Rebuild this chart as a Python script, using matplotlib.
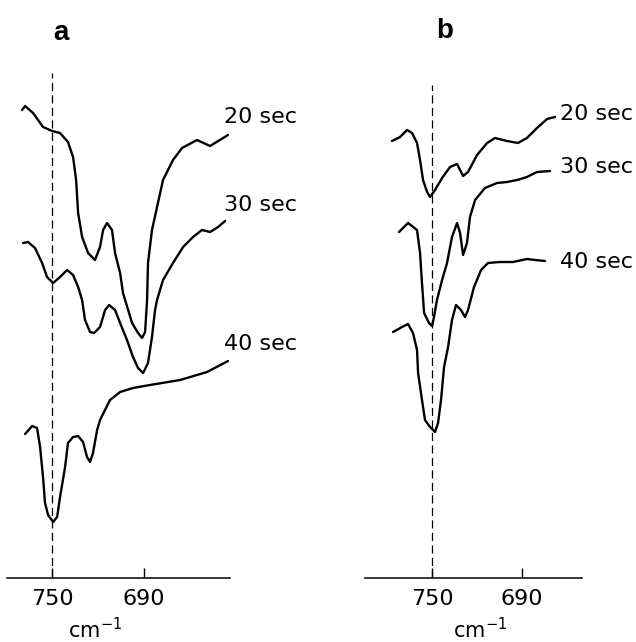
import matplotlib
matplotlib.use("Agg")
import matplotlib.pyplot as plt

# ---------------------------- data ----------------------------
# wavenumber (cm-1) and relative pen height (arb. units, 0 = baseline axis)

# panel a
a20_wn = [769.6, 767.6, 762.4, 755.9, 750.0, 744.8, 739.6, 736.3, 734.3, 733.0,
          730.4, 726.5, 722.0, 718.7, 716.7, 714.1, 710.9, 708.9, 705.6, 703.7,
          697.8, 693.9, 691.3, 689.3, 688.0, 687.4, 684.8, 681.5, 677.6, 671.1,
          665.2, 655.4, 646.9, 635.2]
a20_y = [468, 472, 465, 451, 447, 445, 436, 421, 398, 365,
         341, 325, 318, 331, 348, 355, 348, 325, 305, 285,
         255, 245, 240, 246, 278, 315, 348, 371, 398, 418,
         430, 438, 432, 443]

a30_wn = [768.9, 765.7, 761.1, 756.5, 753.3, 749.3, 744.8, 740.2, 736.3, 733.0,
          730.4, 728.5, 725.2, 722.6, 718.7, 715.4, 712.8, 708.9, 705.6, 701.1,
          697.2, 693.9, 690.6, 687.4, 684.8, 682.8, 681.5, 677.6, 671.1, 664.5,
          658.0, 652.2, 646.9, 641.7, 637.1]
a30_y = [335, 336, 330, 315, 301, 295, 301, 308, 303, 291,
         278, 258, 246, 245, 251, 268, 273, 268, 255, 238,
         221, 210, 205, 215, 241, 268, 278, 298, 315, 331,
         341, 348, 346, 351, 357]

a40_wn = [767.6, 763.0, 759.8, 757.8, 755.9, 754.6, 752.6, 749.3, 746.7, 744.8,
          741.5, 739.6, 736.3, 733.0, 729.8, 727.2, 725.2, 723.3, 720.6, 718.7,
          712.2, 705.6, 697.2, 686.1, 666.5, 648.9, 635.2]
a40_y = [144, 152, 150, 131, 101, 75, 63, 56, 61, 81,
         111, 135, 141, 142, 136, 121, 116, 125, 148, 158,
         178, 186, 190, 193, 198, 206, 217]

# panel b
b20_wn = [776.7, 771.3, 766.7, 763.3, 760.0, 758.0, 756.0, 753.3, 751.3, 748.0,
          743.3, 738.0, 733.3, 731.3, 729.3, 726.0, 720.0, 713.3, 708.0, 700.0,
          692.7, 686.7, 680.0, 673.3, 668.0]
b20_y = [437, 441, 448, 445, 435, 418, 398, 386, 381, 388,
         400, 411, 414, 408, 402, 406, 423, 435, 440, 437,
         435, 440, 450, 459, 461]

b30_wn = [772.0, 766.0, 760.0, 758.0, 756.7, 755.3, 752.0, 750.0, 748.7, 746.7,
          743.3, 740.0, 736.7, 733.3, 731.3, 729.3, 726.7, 724.7, 721.3, 714.7,
          706.7, 700.0, 693.3, 686.7, 680.0, 671.3]
b30_y = [346, 355, 348, 325, 295, 265, 255, 252, 261, 278,
         298, 315, 341, 355, 345, 323, 335, 361, 378, 390,
         395, 396, 398, 401, 406, 407]

b40_wn = [776.0, 770.0, 766.0, 762.7, 760.0, 759.3, 756.7, 754.7, 751.3, 748.0,
          746.0, 744.0, 742.0, 739.3, 736.7, 734.0, 730.7, 728.0, 726.0, 722.0,
          717.3, 712.7, 704.7, 696.0, 686.7, 681.3, 674.7]
b40_y = [246, 251, 254, 245, 228, 205, 178, 158, 151, 146,
         155, 178, 211, 231, 258, 273, 268, 261, 268, 291,
         308, 315, 316, 316, 319, 318, 317]

series_labels = ["20 sec", "30 sec", "40 sec"]
tick_values = [750, 690]

# label anchor (wavenumber, height) for each time label
a_label_wn = 637.8
a_label_y = [461, 373, 234]
b_label_wn = 664.7
b_label_y = [464, 411, 316]

# ---------------------------- figure ----------------------------
W, H = 636, 642
fig = plt.figure(figsize=(W / 100, H / 100), dpi=100)
fig.patch.set_facecolor("white")

Y_TOP = 558  # axes height in data units
bottom = 1 - 578 / H
ax_a = fig.add_axes([7 / W, bottom, 223 / W, Y_TOP / H])
ax_b = fig.add_axes([365 / W, bottom, 217 / W, Y_TOP / H])

LW = 1.7
text_kw = dict(fontsize=16, color="black", va="center", ha="left")


def style_axis(ax, xlim, dash_top):
    ax.set_xlim(*xlim)
    ax.set_ylim(0, Y_TOP)
    for side in ("left", "right", "top"):
        ax.spines[side].set_visible(False)
    ax.spines["bottom"].set_linewidth(1.1)
    ax.set_yticks([])
    ax.set_xticks(tick_values)
    ax.set_xticklabels([str(v) for v in tick_values])
    ax.tick_params(axis="x", direction="in", length=7, width=1.0,
                   labelsize=16, pad=8)
    ax.axvline(750, ymin=0, ymax=dash_top / Y_TOP, color="black",
               lw=0.9, dashes=(6.5, 3.5))
    ax.patch.set_alpha(0)


style_axis(ax_a, (779.4, 633.9), 505)
style_axis(ax_b, (794.7, 650.0), 493)

for wn, y in ((a20_wn, a20_y), (a30_wn, a30_y), (a40_wn, a40_y)):
    ax_a.plot(wn, y, color="black", lw=LW, solid_joinstyle="round",
              solid_capstyle="round")
for wn, y in ((b20_wn, b20_y), (b30_wn, b30_y), (b40_wn, b40_y)):
    ax_b.plot(wn, y, color="black", lw=LW, solid_joinstyle="round",
              solid_capstyle="round")

for lab, y in zip(series_labels, a_label_y):
    ax_a.text(a_label_wn, y, lab, clip_on=False, **text_kw)
for lab, y in zip(series_labels, b_label_y):
    ax_b.text(b_label_wn, y, lab, clip_on=False, **text_kw)

# panel letters and unit labels
fig.text(61 / W, 1 - 33 / H, "a", fontsize=20, fontweight="bold",
         family="Liberation Sans", ha="center", va="center")
fig.text(445 / W, 1 - 31 / H, "b", fontsize=20, fontweight="bold",
         family="Liberation Sans", ha="center", va="center")
fig.text(95 / W, 1 - 630 / H, "cm$^{-1}$", fontsize=15, ha="center", va="center")
fig.text(480 / W, 1 - 630 / H, "cm$^{-1}$", fontsize=15, ha="center", va="center")

fig.savefig("out.png", dpi=100, facecolor="white")
